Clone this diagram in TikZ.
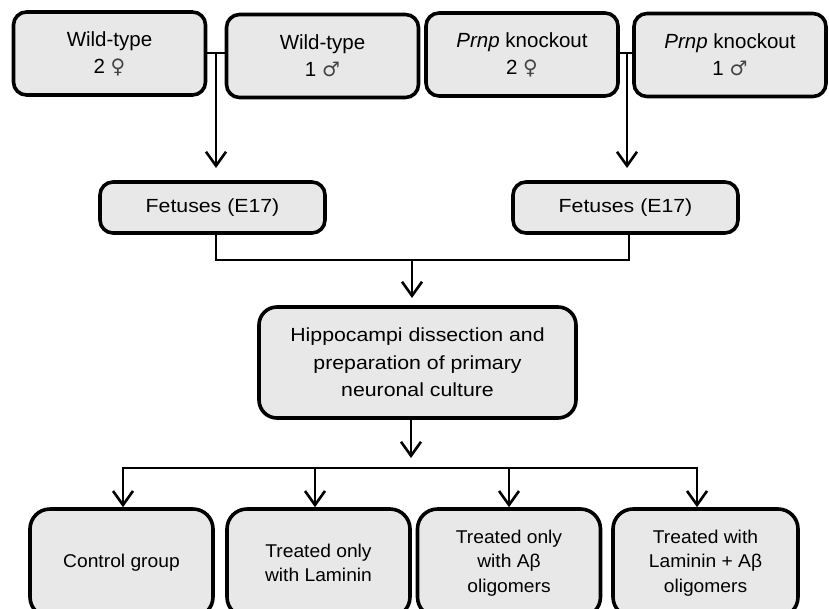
\documentclass[tikz,border=0pt]{standalone}
\usepackage{fontspec}
\setmainfont{Liberation Sans}
\newfontfamily\widefont{Liberation Sans}[FakeStretch=1.12]
\newfontfamily\midfont{Liberation Sans}[FakeStretch=1.04]
\newfontfamily\symfont{DejaVu Sans}
\usetikzlibrary{arrows.meta}
\definecolor{boxgray}{HTML}{E8E8E8}
\definecolor{symgray}{HTML}{444444}
\newcommand{\fem}{{\symfont\color{symgray}\fontsize{20}{27}\selectfont ♀}}
\newcommand{\mal}{{\symfont\color{symgray}\fontsize{20}{27}\selectfont ♂}}
\begin{document}
\begin{tikzpicture}[x=1pt,y=-1pt,
  boxstyle/.style={draw=black, line width=3.6pt, fill=boxgray, rounded corners=13pt,
    align=center, inner sep=0pt},
  topbox/.style={boxstyle, minimum width=192pt, minimum height=83pt,
    font=\fontsize{20.5}{27}\selectfont},
  fetbox/.style={boxstyle, minimum width=225pt, minimum height=51pt,
    font=\widefont\fontsize{19}{27}\selectfont},
  hipbox/.style={boxstyle, minimum width=317pt, minimum height=111pt, rounded corners=18pt,
    font=\widefont\fontsize{19}{27.5}\selectfont},
  botbox/.style={boxstyle, minimum width=183pt, minimum height=108pt, rounded corners=20pt,
    font=\midfont\fontsize{18.5}{24.5}\selectfont},
  conn/.style={line width=2.8pt},
  arr/.style={conn, -{Straight Barb[length=14pt,width=20pt,line width=2.6pt]}}
  ]
\useasboundingbox (0,0) rectangle (829,608);

% top row
\node[topbox] (wtf) at (109.5,53.5) {Wild-type\\2 \fem};
\node[topbox] (wtm) at (322.5,56) {Wild-type\\1 \mal};
\node[topbox] (kof) at (522,54.5) {\textit{Prnp} knockout\\2 \fem};
\node[topbox] (kom) at (730,55) {\textit{Prnp} knockout\\1 \mal};

% fetuses
\node[fetbox] (fetL) at (212.5,207.5) {Fetuses (E17)};
\node[fetbox] (fetR) at (625.5,207.5) {Fetuses (E17)};

% hippocampi
\node[hipbox] (hip) at (417.5,362.5) {Hippocampi dissection and\\preparation of primary\\neuronal culture};

% bottom row
\node[botbox] (b1) at (121.5,563) {Control group};
\node[botbox] (b2) at (318.5,563) {Treated only\\with Laminin};
\node[botbox] (b3) at (509,563) {Treated only\\with Aβ\\oligomers};
\node[botbox, minimum width=185pt] (b4) at (705.5,563) {Treated with\\Laminin + Aβ\\oligomers};

% top connectors
\coordinate (jL) at (216,53);
\coordinate (jR) at (627,53);
\coordinate (aL) at (216,168);
\coordinate (aR) at (627,168);
\draw[conn] (wtf.east |- jL) -- (wtm.west |- jL);
\draw[conn] (kof.east |- jR) -- (kom.west |- jR);
\draw[arr] (jL) -- (aL);
\draw[arr] (jR) -- (aR);

% fetuses to hippocampi
\coordinate (mL) at (216,260);
\coordinate (mR) at (629,260);
\coordinate (mC) at (412,260);
\coordinate (mA) at (412,298);
\draw[conn] (fetL.south -| mL) -- (mL) -- (mR) -- (fetR.south -| mR);
\draw[arr] (mC) -- (mA);

% hippocampi to groups
\coordinate (hA) at (411,458);
\draw[arr] (hip.south -| hA) -- (hA);
\coordinate (g1) at (123,468);
\coordinate (g2) at (315,468);
\coordinate (g3) at (509,468);
\coordinate (g4) at (697,468);
\draw[conn] ([xshift=-1.4pt]g1) -- ([xshift=1.4pt]g4);
\draw[arr] (g1) -- (g1 |- b1.north);
\draw[arr] (g2) -- (g2 |- b2.north);
\draw[arr] (g3) -- (g3 |- b3.north);
\draw[arr] (g4) -- (g4 |- b4.north);
\end{tikzpicture}
\end{document}
